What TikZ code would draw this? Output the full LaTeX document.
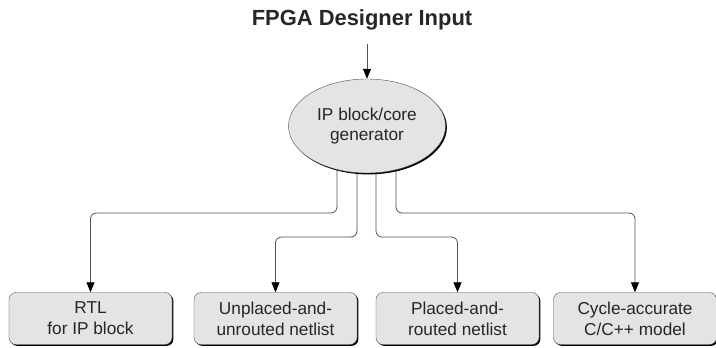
\documentclass[tikz,border=0pt]{standalone}
\usepackage{fontspec}
\setmainfont{Liberation Sans}
\usetikzlibrary{positioning,arrows.meta,calc,shapes.geometric,shadows}
\definecolor{BoxGray}{RGB}{228,228,228}
\definecolor{WireGray}{RGB}{80,80,80}
\pgfdeclarelayer{wires}
\pgfsetlayers{wires,main}

\begin{document}
\begin{tikzpicture}[x=1bp,y=-1bp, every node/.style={font=\fontsize{17.3}{21}\selectfont, align=center, text=black!85},
  outbox/.style={draw=black!70, fill=BoxGray, rounded corners=7bp, minimum width=163bp,
        minimum height=52bp, inner sep=0pt,
        drop shadow={shadow xshift=1.4bp, shadow yshift=-1.4bp, fill=black, opacity=1}},
  gencloud/.style={ellipse, draw=black!70, fill=BoxGray, minimum width=157bp,
        minimum height=94bp, inner sep=0pt,
        drop shadow={shadow xshift=1.4bp, shadow yshift=-1.4bp, fill=black, opacity=1}},
  wire/.style={draw=WireGray, line width=0.8bp, rounded corners=6bp,
        -{Triangle[length=10bp,width=8bp,color=black]}}]
  \useasboundingbox (0,0) rectangle (716,347);

  \node[font=\bfseries\fontsize{22}{26}\selectfont] (title) at (362,20) {FPGA Designer Input};
  \node[gencloud] (gen) at (367,126) {IP block/core\\generator};

  \node[outbox] (rtl) at (90.5,318.5) {RTL\\for IP block};
  \node[outbox] (unrouted) at (275.5,318.5) {Unplaced-and-\\unrouted netlist};
  \node[outbox] (routed) at (457.5,318.5) {Placed-and-\\routed netlist};
  \node[outbox] (cmodel) at (635,318.5) {Cycle-accurate\\C/C++ model};

  \coordinate (busA) at (0,213);
  \coordinate (busB) at (0,237);

  \draw[wire, shorten <=10bp] (title.south -| gen.north) -- (gen.north);

  % outputs of the generator
  \begin{pgfonlayer}{wires}
    \draw[wire] ($(gen.center)+(-30,0)$) coordinate (s1) -- (s1 |- busA) -| (rtl.north);
    \draw[wire] ($(gen.center)+(-10,0)$) coordinate (s2) -- (s2 |- busB) -| (unrouted.north);
    \draw[wire] ($(gen.center)+(9,0)$) coordinate (s3) -- (s3 |- busB) -| (routed.north);
    \draw[wire] ($(gen.center)+(29,0)$) coordinate (s4) -- (s4 |- busA) -| (cmodel.north);
  \end{pgfonlayer}
\end{tikzpicture}
\end{document}
